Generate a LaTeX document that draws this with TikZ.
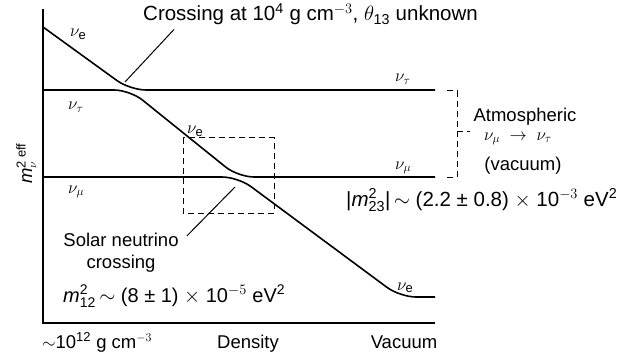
\documentclass[tikz,border=0pt]{standalone}
\usepackage{fontspec}
\setmainfont{Liberation Sans}
\usepackage{amsmath}
\usetikzlibrary{positioning}

\begin{document}
\begin{tikzpicture}[x=1pt, y=-1pt,
  txt/.style={inner sep=0pt, font=\fontsize{18.5}{22}\selectfont},
  bigtxt/.style={inner sep=0pt, font=\fontsize{20.5}{24}\selectfont},
  level/.style={line width=1.6pt, rounded corners=16pt},
  axisline/.style={line width=1.4pt},
  leader/.style={line width=1pt},
  dashline/.style={line width=1pt, dash pattern=on 6pt off 4pt}
]
  \useasboundingbox (0,0) rectangle (617,358);

  % axes
  \coordinate (axTop) at (43,9);
  \coordinate (axOrigin) at (43,323);
  \coordinate (axRight) at (435,323);
  \draw[axisline] (axTop) -- (axOrigin) -- (axRight);

  % effective mass levels
  \draw[level] (43,27) -- (130,90) -- (435,90);
  \draw[level] (43,90) -- (130,90) -- (238,177) -- (435,177);
  \draw[level] (43,177) -- (238,177) -- (400,297) -- (435,297);

  % level labels
  \node[txt, anchor=base west] (nuEtop) at (70,37) {$\nu_{\text{e}}$};
  \node[txt, anchor=base west] (nuTauL) at (68,110) {$\nu_\tau$};
  \node[txt, anchor=base west] (nuEmid) at (187,134) {$\nu_{\text{e}}$};
  \node[txt, anchor=base west] (nuMuL) at (68,193) {$\nu_\mu$};
  \node[txt, anchor=base west] (nuTauR) at (395,82) {$\nu_\tau$};
  \node[txt, anchor=base west] (nuMuR) at (395,169) {$\nu_\mu$};
  \node[txt, anchor=base west] (nuEbot) at (397,290) {$\nu_{\text{e}}$};

  % crossing at high density
  \node[bigtxt, anchor=base west] (crossLbl) at (143,21)
    {Crossing at 10\textsuperscript{4} g cm$^{-3}$, $\theta_{\text{13}}$ unknown};
  \coordinate (crossTip) at (125,82);
  \draw[leader] ([shift={(31,4)}]crossLbl.south west) -- (crossTip);

  % solar crossing
  \draw[dashline] (183,138) rectangle (274,213);
  \node[txt, align=center, anchor=north] (solarLbl) at (121,233) {Solar neutrino\\crossing};
  \coordinate (solarTip) at (235,187);
  \draw[leader] ([shift={(8,3)}]solarLbl.north east) -- (solarTip);
  \node[txt, font=\fontsize{20}{24}\selectfont, anchor=base west] (m12Lbl) at (63,302)
    {\textit{m}${}^{\text{2}}_{\text{12}}$\,$\sim$ (8 ± 1) $\times$ 10$^{-5}$ eV\textsuperscript{2}};

  % atmospheric bracket
  \draw[dashline] (447,91) -- (457,91) -- (457,177) -- (447,177);
  \node[txt, anchor=base] (atmLbl) at (525,122) {Atmospheric};
  \node[txt, anchor=base] (atmNu) at (518,140) {$\nu_\mu \;\rightarrow\; \nu_\tau$};
  \node[txt, anchor=base] (atmVac) at (523,170) {(vacuum)};
  \coordinate (atmTick) at (470,132);
  \draw[dashline] (457,132) -- (atmTick);
  \node[bigtxt, anchor=base west] (m23Lbl) at (346,206)
    {|\textit{m}${}^{\text{2}}_{\text{23}}$|$\,\sim$ (2.2 ± 0.8) $\times$ 10$^{-3}$ eV\textsuperscript{2}};

  % axis labels
  \node[txt, anchor=base west, rotate=90] (yLbl) at (32,184) {\textit{m}${}^{\text{2 eff}}_{\nu}$};
  \node[txt, anchor=base west] (densHigh) at (42,348) {$\sim$10\textsuperscript{12} g cm$^{-3}$};
  \node[txt, anchor=base] (densLbl) at (248,348) {Density};
  \node[txt, anchor=base] (vacLbl) at (404,348) {Vacuum};
\end{tikzpicture}
\end{document}
